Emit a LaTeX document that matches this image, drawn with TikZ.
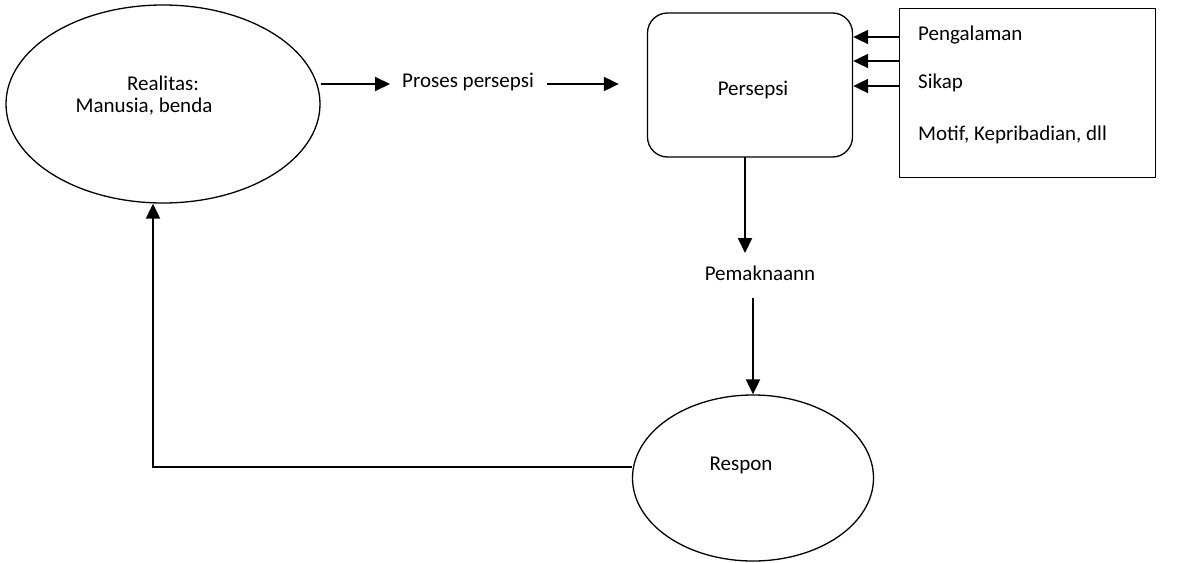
\documentclass[tikz,border=0pt]{standalone}
\usepackage{fontspec}
\setmainfont{Carlito}
\usetikzlibrary{shapes.geometric,positioning,calc,arrows.meta}

\tikzset{
    oval/.style={draw, ellipse, line width=1.3pt, inner sep=0pt},
    arr/.style={line width=2pt, -{Triangle[length=15pt,width=14pt]}},
    txt/.style={font=\fontsize{21}{25}\selectfont, inner sep=2pt}
}

\begin{document}
\begin{tikzpicture}[x=1pt, y=-1pt]
    \useasboundingbox (0,0) rectangle (1190,562);

    % Realitas
    \node[oval, minimum width=314pt, minimum height=198pt] (realitas) at (163,104) {};
    \node[txt] (realtxt1) at (163,83) {Realitas:};
    \node[txt] (realtxt2) at (144,107) {Manusia, benda};

    % Proses persepsi
    \node[txt] (proses) at (468,82) {Proses persepsi};

    % Persepsi
    \node[draw, line width=1.3pt, rounded corners=20pt, minimum width=205pt, minimum height=144pt,
          txt, font=\fontsize{21}{25}\selectfont] (persepsi) at (750,85) {};
    \node[txt] (perstxt) at (753,90) {Persepsi};

    % Faktor
    \node[draw, line width=1pt, minimum width=256pt, minimum height=169pt] (faktor) at (1027,92.5) {};
    \node[txt, anchor=west] (pengalaman) at (916,35) {Pengalaman};
    \node[txt, anchor=west] (sikap) at (916,83) {Sikap};
    \node[txt, anchor=west] (motif) at (916,135) {Motif, Kepribadian, dll};

    % Pemaknaan & Respon
    \node[txt] (pemaknaan) at (760,273) {Pemaknaann};
    \node[oval, minimum width=241pt, minimum height=166pt] (respon) at (753,478) {};
    \node[txt] (respontxt) at (741,465) {Respon};
    \coordinate (balik) at (153,467);

    % arrows
    \draw[arr] (realitas.east |- 0,84) -- (390,84);
    \draw[arr] (547,84) -- ([xshift=-28pt]persepsi.west |- 0,84);
    \foreach \y in {37,61,86}
        \draw[arr] (faktor.west |- 0,\y) -- (persepsi.east |- 0,\y);
    \draw[arr] (745,157) -- (745,253);
    \draw[arr] (753,298) -- (respon.north);
    \draw[arr] (respon.west |- balik) -- (balik) -- (realitas.south -| balik);
\end{tikzpicture}
\end{document}
